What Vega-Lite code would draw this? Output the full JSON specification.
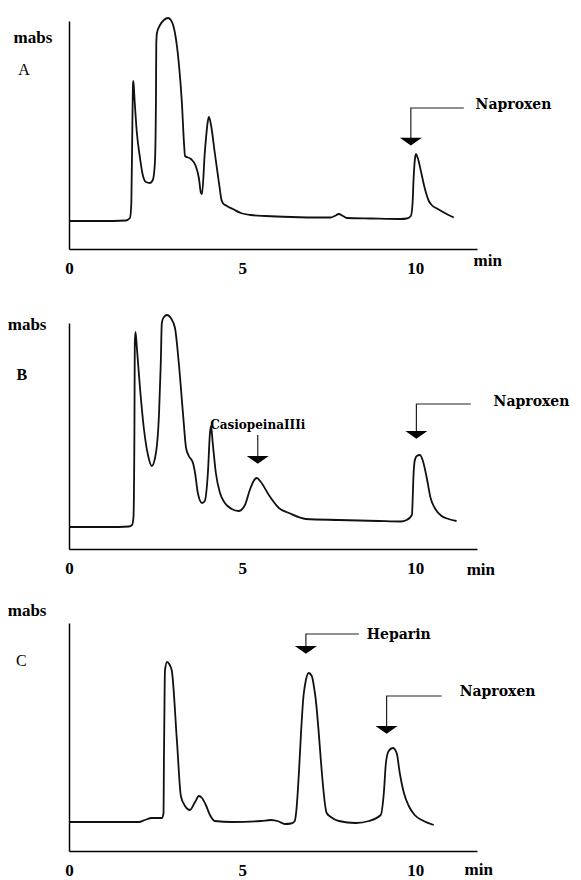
{
"$schema": "https://vega.github.io/schema/vega-lite/v6.json",
"background": "white",
"padding": {"left": 7, "top": 14, "right": 0, "bottom": 0},
"bounds": "flush",
"spacing": 74,
"config": {
 "view": {"stroke": null},
 "axis": {"domainColor": "black", "domainWidth": 1.5, "grid": false, "ticks": false, "labelFont": "Liberation Serif", "labelFontSize": 17, "labelFontWeight": "bold", "labelColor": "black", "labelPadding": 11, "labelFlush": false}
},
"datasets": {
 "trace": [
  {"p":"A","t":0,"v":28},{"p":"A","t":0.92,"v":28},{"p":"A","t":1.64,"v":28.5},{"p":"A","t":1.76,"v":31},{"p":"A","t":1.8,"v":46},{"p":"A","t":1.83,"v":126},{"p":"A","t":1.85,"v":166},{"p":"A","t":1.86,"v":168},{"p":"A","t":1.89,"v":151},{"p":"A","t":1.96,"v":116},{"p":"A","t":2.05,"v":91},{"p":"A","t":2.13,"v":74},{"p":"A","t":2.22,"v":67},{"p":"A","t":2.34,"v":66},{"p":"A","t":2.42,"v":69},{"p":"A","t":2.48,"v":86},{"p":"A","t":2.51,"v":146},{"p":"A","t":2.52,"v":206},{"p":"A","t":2.54,"v":216},{"p":"A","t":2.63,"v":224},{"p":"A","t":2.74,"v":229},{"p":"A","t":2.86,"v":231},{"p":"A","t":2.94,"v":229},{"p":"A","t":3.06,"v":216},{"p":"A","t":3.17,"v":186},{"p":"A","t":3.26,"v":146},{"p":"A","t":3.32,"v":106},{"p":"A","t":3.35,"v":93},{"p":"A","t":3.52,"v":90},{"p":"A","t":3.66,"v":83},{"p":"A","t":3.75,"v":71},{"p":"A","t":3.81,"v":56},{"p":"A","t":3.84,"v":55},{"p":"A","t":3.92,"v":96},{"p":"A","t":4.01,"v":128},{"p":"A","t":4.04,"v":132},{"p":"A","t":4.1,"v":124},{"p":"A","t":4.21,"v":96},{"p":"A","t":4.33,"v":66},{"p":"A","t":4.37,"v":56},{"p":"A","t":4.39,"v":51},{"p":"A","t":4.44,"v":46},{"p":"A","t":4.56,"v":43},{"p":"A","t":4.73,"v":40},{"p":"A","t":4.96,"v":36},{"p":"A","t":5.25,"v":34},{"p":"A","t":5.68,"v":33},{"p":"A","t":6.41,"v":32},{"p":"A","t":7.27,"v":31.5},{"p":"A","t":7.56,"v":31.5},{"p":"A","t":7.67,"v":33},{"p":"A","t":7.79,"v":35},{"p":"A","t":7.91,"v":33},{"p":"A","t":8.02,"v":31},{"p":"A","t":8.71,"v":30.5},{"p":"A","t":9.58,"v":30},{"p":"A","t":9.75,"v":30.5},{"p":"A","t":9.87,"v":33},{"p":"A","t":9.92,"v":46},{"p":"A","t":9.95,"v":71},{"p":"A","t":10.0,"v":93},{"p":"A","t":10.02,"v":95},{"p":"A","t":10.07,"v":91},{"p":"A","t":10.16,"v":78},{"p":"A","t":10.27,"v":61},{"p":"A","t":10.39,"v":48},{"p":"A","t":10.47,"v":44},{"p":"A","t":10.65,"v":40},{"p":"A","t":10.85,"v":36},{"p":"A","t":11.11,"v":31.5},
  {"p":"B","t":0,"v":22},{"p":"B","t":1.15,"v":22},{"p":"B","t":1.73,"v":22.5},{"p":"B","t":1.82,"v":24},{"p":"B","t":1.86,"v":31},{"p":"B","t":1.89,"v":126},{"p":"B","t":1.9,"v":206},{"p":"B","t":1.92,"v":217},{"p":"B","t":1.96,"v":201},{"p":"B","t":2.05,"v":161},{"p":"B","t":2.16,"v":121},{"p":"B","t":2.28,"v":94},{"p":"B","t":2.39,"v":83},{"p":"B","t":2.51,"v":96},{"p":"B","t":2.6,"v":136},{"p":"B","t":2.65,"v":186},{"p":"B","t":2.68,"v":226},{"p":"B","t":2.74,"v":232},{"p":"B","t":2.83,"v":234},{"p":"B","t":2.94,"v":231},{"p":"B","t":3.06,"v":221},{"p":"B","t":3.17,"v":186},{"p":"B","t":3.29,"v":136},{"p":"B","t":3.38,"v":101},{"p":"B","t":3.46,"v":93},{"p":"B","t":3.58,"v":86},{"p":"B","t":3.64,"v":76},{"p":"B","t":3.72,"v":56},{"p":"B","t":3.84,"v":46},{"p":"B","t":3.92,"v":48},{"p":"B","t":4.01,"v":76},{"p":"B","t":4.07,"v":116},{"p":"B","t":4.1,"v":123},{"p":"B","t":4.15,"v":106},{"p":"B","t":4.24,"v":76},{"p":"B","t":4.36,"v":56},{"p":"B","t":4.5,"v":46},{"p":"B","t":4.7,"v":40},{"p":"B","t":4.9,"v":38},{"p":"B","t":5.08,"v":44},{"p":"B","t":5.22,"v":59},{"p":"B","t":5.37,"v":70},{"p":"B","t":5.42,"v":71},{"p":"B","t":5.54,"v":67},{"p":"B","t":5.77,"v":54},{"p":"B","t":6.06,"v":41},{"p":"B","t":6.35,"v":36},{"p":"B","t":6.84,"v":30},{"p":"B","t":7.79,"v":29},{"p":"B","t":8.94,"v":28},{"p":"B","t":9.58,"v":27.5},{"p":"B","t":9.75,"v":29},{"p":"B","t":9.9,"v":34},{"p":"B","t":9.95,"v":76},{"p":"B","t":9.98,"v":88},{"p":"B","t":10.04,"v":93},{"p":"B","t":10.13,"v":94},{"p":"B","t":10.21,"v":89},{"p":"B","t":10.33,"v":71},{"p":"B","t":10.44,"v":51},{"p":"B","t":10.56,"v":41},{"p":"B","t":10.76,"v":33},{"p":"B","t":10.96,"v":30},{"p":"B","t":11.19,"v":28},
  {"p":"C","t":0,"v":29},{"p":"C","t":2.02,"v":29},{"p":"C","t":2.19,"v":31},{"p":"C","t":2.39,"v":33},{"p":"C","t":2.68,"v":33},{"p":"C","t":2.73,"v":38},{"p":"C","t":2.74,"v":88},{"p":"C","t":2.76,"v":158},{"p":"C","t":2.77,"v":180},{"p":"C","t":2.83,"v":189},{"p":"C","t":2.91,"v":186},{"p":"C","t":2.97,"v":180},{"p":"C","t":3.12,"v":108},{"p":"C","t":3.23,"v":55},{"p":"C","t":3.35,"v":45},{"p":"C","t":3.49,"v":41},{"p":"C","t":3.64,"v":49},{"p":"C","t":3.75,"v":55},{"p":"C","t":3.84,"v":53},{"p":"C","t":3.95,"v":46},{"p":"C","t":4.07,"v":36},{"p":"C","t":4.21,"v":30},{"p":"C","t":4.7,"v":29},{"p":"C","t":5.54,"v":30},{"p":"C","t":5.83,"v":31},{"p":"C","t":6.06,"v":29.5},{"p":"C","t":6.23,"v":27},{"p":"C","t":6.41,"v":27.5},{"p":"C","t":6.52,"v":30},{"p":"C","t":6.55,"v":36},{"p":"C","t":6.78,"v":158},{"p":"C","t":6.84,"v":171},{"p":"C","t":6.92,"v":178},{"p":"C","t":7.01,"v":175},{"p":"C","t":7.1,"v":158},{"p":"C","t":7.44,"v":38},{"p":"C","t":7.56,"v":34},{"p":"C","t":7.79,"v":30},{"p":"C","t":8.28,"v":28},{"p":"C","t":8.66,"v":30},{"p":"C","t":9.0,"v":36},{"p":"C","t":9.09,"v":58},{"p":"C","t":9.15,"v":88},{"p":"C","t":9.23,"v":100},{"p":"C","t":9.35,"v":103},{"p":"C","t":9.46,"v":98},{"p":"C","t":9.55,"v":78},{"p":"C","t":9.67,"v":58},{"p":"C","t":9.81,"v":45},{"p":"C","t":9.98,"v":36},{"p":"C","t":10.24,"v":30},{"p":"C","t":10.53,"v":26}
 ],
 "ann": [
  {"p":"A","id":"A-nap","k":0,"t":11.4,"v":141},{"p":"A","id":"A-nap","k":1,"t":9.87,"v":141},{"p":"A","id":"A-nap","k":2,"t":9.87,"v":110},
  {"p":"B","id":"B-nap","k":0,"t":11.6,"v":145},{"p":"B","id":"B-nap","k":1,"t":10.03,"v":145},{"p":"B","id":"B-nap","k":2,"t":10.03,"v":118},
  {"p":"B","id":"B-cas","k":0,"t":5.45,"v":114},{"p":"B","id":"B-cas","k":1,"t":5.45,"v":93},
  {"p":"C","id":"C-hep","k":0,"t":8.37,"v":217},{"p":"C","id":"C-hep","k":1,"t":6.84,"v":217},{"p":"C","id":"C-hep","k":2,"t":6.84,"v":205},
  {"p":"C","id":"C-nap","k":0,"t":10.76,"v":155},{"p":"C","id":"C-nap","k":1,"t":9.17,"v":155},{"p":"C","id":"C-nap","k":2,"t":9.17,"v":125}
 ],
 "heads": [
  {"p":"A","t":9.87,"v":108},
  {"p":"B","t":10.03,"v":114.7},
  {"p":"B","t":5.45,"v":89.7},
  {"p":"C","t":6.84,"v":201.7},
  {"p":"C","t":9.17,"v":121.7}
 ],
 "labels": [
  {"p":"A","kind":"name","text":"Naproxen","t":11.74,"v":144},
  {"p":"B","kind":"name","text":"Naproxen","t":12.26,"v":147},
  {"p":"B","kind":"cname","text":"CasiopeinaIIIi","t":5.45,"v":124},
  {"p":"C","kind":"name","text":"Heparin","t":8.6,"v":216},
  {"p":"C","kind":"name","text":"Naproxen","t":11.28,"v":159},
  {"p":"A","kind":"unit","text":"mabs","t":-1.04,"v":211},
  {"p":"B","kind":"unit","text":"mabs","t":-1.21,"v":224},
  {"p":"C","kind":"unit","text":"mabs","t":-1.21,"v":240},
  {"p":"A","kind":"letter","text":"A","t":-1.3,"v":179},
  {"p":"B","kind":"letter","text":"B","t":-1.36,"v":174},
  {"p":"C","kind":"letter","text":"C","t":-1.38,"v":190},
  {"p":"A","kind":"min","text":"min","t":12.09,"v":-17},
  {"p":"B","kind":"min","text":"min","t":11.89,"v":-26},
  {"p":"C","kind":"min","text":"min","t":11.83,"v":-24}
 ]
},
"vconcat": [
 {
  "width": 408, "height": 228,
  "encoding": {
   "x": {"field":"t","type":"quantitative","scale":{"domain":[0,11.78],"nice":false,"zero":false},"axis":{"values":[0,5,10],"title":null}},
   "y": {"field":"v","type":"quantitative","scale":{"domain":[0,228],"nice":false},"axis":{"title":null,"labels":false}}
  },
  "layer": [
   {"data":{"name":"trace"},"transform":[{"filter":"datum.p==='A'"}],"mark":{"type":"line","interpolate":"monotone","color":"#111111","strokeWidth":1.8,"clip":false}},
   {"data":{"name":"ann"},"transform":[{"filter":"datum.p==='A'"}],"mark":{"type":"line","color":"#222222","strokeWidth":1.2,"clip":false},"encoding":{"detail":{"field":"id"},"order":{"field":"k"}}},
   {"data":{"name":"heads"},"transform":[{"filter":"datum.p==='A'"}],"mark":{"type":"point","shape":"M-1,-0.3L1,-0.3L0,0.4Z","size":484,"filled":true,"color":"black","opacity":1,"clip":false}},
   {"data":{"name":"labels"},"transform":[{"filter":"datum.p==='A' && datum.kind==='name'"}],"mark":{"type":"text","align":"left","baseline":"middle","font":"DejaVu Serif","fontSize":14,"fontWeight":"bold","color":"black","clip":false},"encoding":{"text":{"field":"text"}}},
   {"data":{"name":"labels"},"transform":[{"filter":"datum.p==='A' && datum.kind==='unit'"}],"mark":{"type":"text","align":"center","baseline":"middle","font":"Liberation Serif","fontSize":17,"fontWeight":"bold","color":"black","clip":false},"encoding":{"text":{"field":"text"}}},
   {"data":{"name":"labels"},"transform":[{"filter":"datum.p==='A' && datum.kind==='min'"}],"mark":{"type":"text","align":"center","baseline":"alphabetic","font":"Liberation Serif","fontSize":17,"fontWeight":"bold","color":"black","clip":false},"encoding":{"text":{"field":"text"}}},
   {"data":{"name":"labels"},"transform":[{"filter":"datum.p==='A' && datum.kind==='letter'"}],"mark":{"type":"text","align":"center","baseline":"middle","font":"Liberation Serif","fontSize":16,"color":"black","clip":false},"encoding":{"text":{"field":"text"}}}
  ]
 },
 {
  "width": 408, "height": 226,
  "encoding": {
   "x": {"field":"t","type":"quantitative","scale":{"domain":[0,11.78],"nice":false,"zero":false},"axis":{"values":[0,5,10],"title":null}},
   "y": {"field":"v","type":"quantitative","scale":{"domain":[0,226],"nice":false},"axis":{"title":null,"labels":false}}
  },
  "layer": [
   {"data":{"name":"trace"},"transform":[{"filter":"datum.p==='B'"}],"mark":{"type":"line","interpolate":"monotone","color":"#111111","strokeWidth":1.8,"clip":false}},
   {"data":{"name":"ann"},"transform":[{"filter":"datum.p==='B'"}],"mark":{"type":"line","color":"#222222","strokeWidth":1.2,"clip":false},"encoding":{"detail":{"field":"id"},"order":{"field":"k"}}},
   {"data":{"name":"heads"},"transform":[{"filter":"datum.p==='B'"}],"mark":{"type":"point","shape":"M-1,-0.3L1,-0.3L0,0.4Z","size":484,"filled":true,"color":"black","opacity":1,"clip":false}},
   {"data":{"name":"labels"},"transform":[{"filter":"datum.p==='B' && datum.kind==='name'"}],"mark":{"type":"text","align":"left","baseline":"middle","font":"DejaVu Serif","fontSize":14,"fontWeight":"bold","color":"black","clip":false},"encoding":{"text":{"field":"text"}}},
   {"data":{"name":"labels"},"transform":[{"filter":"datum.p==='B' && datum.kind==='cname'"}],"mark":{"type":"text","align":"center","baseline":"middle","font":"DejaVu Serif","fontSize":12,"fontWeight":"bold","color":"black","clip":false},"encoding":{"text":{"field":"text"}}},
   {"data":{"name":"labels"},"transform":[{"filter":"datum.p==='B' && datum.kind==='unit'"}],"mark":{"type":"text","align":"center","baseline":"middle","font":"Liberation Serif","fontSize":17,"fontWeight":"bold","color":"black","clip":false},"encoding":{"text":{"field":"text"}}},
   {"data":{"name":"labels"},"transform":[{"filter":"datum.p==='B' && datum.kind==='min'"}],"mark":{"type":"text","align":"center","baseline":"alphabetic","font":"Liberation Serif","fontSize":17,"fontWeight":"bold","color":"black","clip":false},"encoding":{"text":{"field":"text"}}},
   {"data":{"name":"labels"},"transform":[{"filter":"datum.p==='B' && datum.kind==='letter'"}],"mark":{"type":"text","align":"center","baseline":"middle","font":"Liberation Serif","fontSize":16,"fontWeight":"bold","color":"black","clip":false},"encoding":{"text":{"field":"text"}}}
  ]
 },
 {
  "width": 408, "height": 228,
  "encoding": {
   "x": {"field":"t","type":"quantitative","scale":{"domain":[0,11.78],"nice":false,"zero":false},"axis":{"values":[0,5,10],"title":null}},
   "y": {"field":"v","type":"quantitative","scale":{"domain":[0,228],"nice":false},"axis":{"title":null,"labels":false}}
  },
  "layer": [
   {"data":{"name":"trace"},"transform":[{"filter":"datum.p==='C'"}],"mark":{"type":"line","interpolate":"monotone","color":"#111111","strokeWidth":1.8,"clip":false}},
   {"data":{"name":"ann"},"transform":[{"filter":"datum.p==='C'"}],"mark":{"type":"line","color":"#222222","strokeWidth":1.2,"clip":false},"encoding":{"detail":{"field":"id"},"order":{"field":"k"}}},
   {"data":{"name":"heads"},"transform":[{"filter":"datum.p==='C'"}],"mark":{"type":"point","shape":"M-1,-0.3L1,-0.3L0,0.4Z","size":484,"filled":true,"color":"black","opacity":1,"clip":false}},
   {"data":{"name":"labels"},"transform":[{"filter":"datum.p==='C' && datum.kind==='name'"}],"mark":{"type":"text","align":"left","baseline":"middle","font":"DejaVu Serif","fontSize":14,"fontWeight":"bold","color":"black","clip":false},"encoding":{"text":{"field":"text"}}},
   {"data":{"name":"labels"},"transform":[{"filter":"datum.p==='C' && datum.kind==='unit'"}],"mark":{"type":"text","align":"center","baseline":"middle","font":"Liberation Serif","fontSize":17,"fontWeight":"bold","color":"black","clip":false},"encoding":{"text":{"field":"text"}}},
   {"data":{"name":"labels"},"transform":[{"filter":"datum.p==='C' && datum.kind==='min'"}],"mark":{"type":"text","align":"center","baseline":"alphabetic","font":"Liberation Serif","fontSize":17,"fontWeight":"bold","color":"black","clip":false},"encoding":{"text":{"field":"text"}}},
   {"data":{"name":"labels"},"transform":[{"filter":"datum.p==='C' && datum.kind==='letter'"}],"mark":{"type":"text","align":"center","baseline":"middle","font":"Liberation Serif","fontSize":16,"color":"black","clip":false},"encoding":{"text":{"field":"text"}}}
  ]
 }
]
}
